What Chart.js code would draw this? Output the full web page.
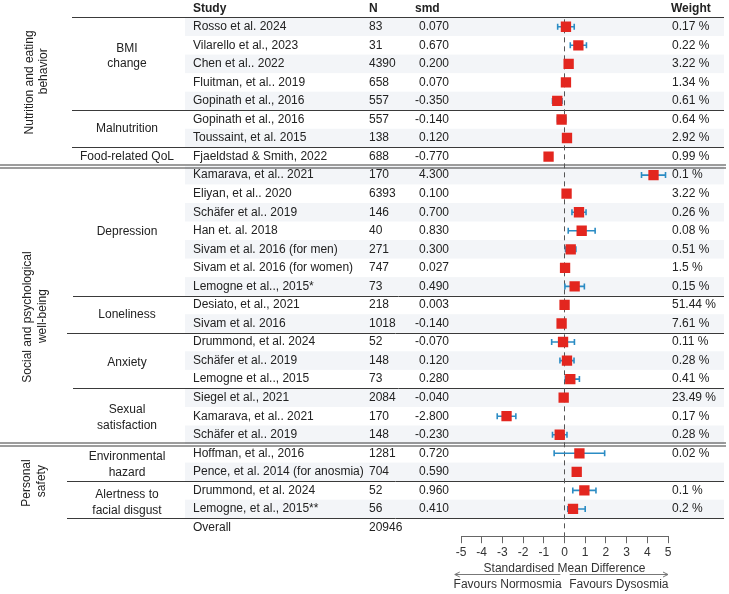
<!DOCTYPE html>
<html>
<head>
<meta charset="utf-8">
<script src="https://cdn.jsdelivr.net/npm/chart.js@4.4.1/dist/chart.umd.min.js"></script>
<style>
  html, body { margin: 0; padding: 0; background: #fff; }
  canvas { display: block; }
</style>
</head>
<body>
<canvas id="forestChart" width="729" height="594"></canvas>
<script>
// study rows, top to bottom
const studies = [
    'Rosso et al. 2024', 'Vilarello et al., 2023', 'Chen et al.. 2022', 'Fluitman, et al.. 2019',
    'Gopinath et al., 2016', 'Gopinath et al., 2016', 'Toussaint, et al. 2015', 'Fjaeldstad & Smith, 2022',
    'Kamarava, et al.. 2021', 'Eliyan, et al.. 2020', 'Schäfer et al.. 2019', 'Han et. al. 2018',
    'Sivam et al. 2016 (for men)', 'Sivam et al. 2016 (for women)', 'Lemogne et al.., 2015*',
    'Desiato, et al., 2021', 'Sivam et al. 2016', 'Drummond, et al. 2024', 'Schäfer et al.. 2019',
    'Lemogne et al.., 2015', 'Siegel et al., 2021', 'Kamarava, et al.. 2021', 'Schäfer et al.. 2019',
    'Hoffman, et al., 2016', 'Pence, et al. 2014 (for anosmia)', 'Drummond, et al. 2024', 'Lemogne, et al., 2015**'
];
const sampleN = [83, 31, 4390, 658, 557, 557, 138, 688, 170, 6393, 146, 40, 271, 747, 73, 218, 1018, 52, 148, 73, 2084, 170, 148, 1281, 704, 52, 56];
const smd = [0.070, 0.670, 0.200, 0.070, -0.350, -0.140, 0.120, -0.770, 4.300, 0.100, 0.700, 0.830, 0.300, 0.027, 0.490,
    0.003, -0.140, -0.070, 0.120, 0.280, -0.040, -2.800, -0.230, 0.720, 0.590, 0.960, 0.410];
// confidence limits
const ciLower = [-0.33, 0.28, 0.14, -0.01, -0.58, -0.34, 0.00, -0.85, 3.72, 0.05, 0.36, 0.18, 0.05, -0.08, 0.02,
    -0.09, -0.22, -0.62, -0.22, 0.04, -0.10, -3.25, -0.58, -0.50, 0.52, 0.40, 0.16];
const ciUpper = [0.47, 1.06, 0.26, 0.15, -0.12, 0.06, 0.24, -0.69, 4.88, 0.15, 1.04, 1.48, 0.55, 0.13, 0.96,
    0.10, -0.06, 0.48, 0.46, 0.72, 0.02, -2.35, 0.12, 1.94, 0.66, 1.52, 1.00];
const weights = ['0.17 %', '0.22 %', '3.22 %', '1.34 %', '0.61 %', '0.64 %', '2.92 %', '0.99 %', '0.1 %', '3.22 %',
    '0.26 %', '0.08 %', '0.51 %', '1.5 %', '0.15 %', '51.44 %', '7.61 %', '0.11 %', '0.28 %', '0.41 %',
    '23.49 %', '0.17 %', '0.28 %', '0.02 %', '', '0.1 %', '0.2 %'];
const overallN = 20946;
const xTicks = [-5, -4, -3, -2, -1, 0, 1, 2, 3, 4, 5];

// outcome labels: text lines and the row they sit on
const outcomes = [
    { lines: ['BMI', 'change'], rows: [1.2, 2.0] },
    { lines: ['Malnutrition'], rows: [5.5] },
    { lines: ['Food-related QoL'], rows: [7] },
    { lines: ['Depression'], rows: [11.05] },
    { lines: ['Loneliness'], rows: [15.5] },
    { lines: ['Anxiety'], rows: [18.1] },
    { lines: ['Sexual', 'satisfaction'], rows: [20.63, 21.5] },
    { lines: ['Environmental', 'hazard'], rows: [23.2, 24.05] },
    { lines: ['Alertness to', 'facial disgust'], rows: [25.25, 26.1] }
];
const domains = [
    { lines: ['Nutrition and eating', 'behavior'], rows: [3.0, 2.4], x: [30, 44] },
    { lines: ['Social and psychological', 'well-being'], rows: [15.65, 15.6], x: [28, 43] },
    { lines: ['Personal', 'safety'], rows: [24.6, 24.5], x: [27, 42] }
];
// separator lines below a row: row index, start x, double line
const separators = [
    { after: -1, from: 72 }, { after: 4, from: 72 }, { after: 6, from: 72 }, { after: 7, from: 0, dbl: true },
    { after: 14, from: 73 }, { after: 16, from: 67 }, { after: 19, from: 73 }, { after: 22, from: 0, dbl: true },
    { after: 24, from: 67 }, { after: 26, from: 67 }
];

const FONT = "'Liberation Sans', Arial, Helvetica, sans-serif";
Chart.defaults.font.family = FONT;
Chart.defaults.font.size = 12;

const rowIdx = studies.map((s, i) => i);
const ciLines = [];
rowIdx.forEach(i => {
    ciLines.push({ x: ciLower[i], y: i }, { x: ciUpper[i], y: i }, { x: ciUpper[i], y: null });
});
const ciCaps = [];
rowIdx.forEach(i => {
    ciCaps.push({ x: ciLower[i], y: i }, { x: ciUpper[i], y: i });
});

const tablePlugin = {
    id: 'forestTable',
    beforeDatasetsDraw(chart) {
        const c = chart.ctx;
        const y = chart.scales.y;
        const h = y.getPixelForValue(1) - y.getPixelForValue(0);
        c.save();
        c.fillStyle = '#f3f5f8';
        rowIdx.forEach(i => {
            if (i % 2 === 0) {
                const cy = y.getPixelForValue(i);
                c.fillRect(185, cy - h / 2, 539, h);
            }
        });
        c.strokeStyle = '#3a3a3a';
        c.lineWidth = 1;
        separators.forEach(s => {
            const py = Math.round(y.getPixelForValue(s.after + 0.5)) + 0.5;
            c.beginPath();
            if (s.dbl) {
                c.moveTo(s.from, py - 1.5); c.lineTo(726, py - 1.5);
                c.moveTo(s.from, py + 1.5); c.lineTo(726, py + 1.5);
            } else {
                c.moveTo(s.from, py); c.lineTo(724, py);
            }
            c.stroke();
        });
        c.restore();
    },
    afterDraw(chart) {
        const c = chart.ctx;
        const y = chart.scales.y;
        const x = chart.scales.x;
        c.save();
        c.fillStyle = '#222';
        c.textBaseline = 'middle';
        // header
        c.font = 'bold 12px ' + FONT;
        const hy = y.getPixelForValue(-1);
        c.fillText('Study', 193, hy);
        c.fillText('N', 369, hy);
        c.fillText('smd', 415, hy);
        c.fillText('Weight', 671, hy);
        c.font = '12px ' + FONT;
        rowIdx.forEach(i => {
            const py = y.getPixelForValue(i);
            c.textAlign = 'left';
            c.fillText(studies[i], 193, py);
            c.fillText(String(sampleN[i]), 369, py);
            c.fillText(weights[i], 672, py);
            c.textAlign = 'right';
            c.fillText(smd[i].toFixed(3), 449, py);
        });
        c.textAlign = 'left';
        const oy = y.getPixelForValue(studies.length);
        c.fillText('Overall', 193, oy);
        c.fillText(String(overallN), 369, oy);

        c.textAlign = 'center';
        outcomes.forEach(o => {
            o.lines.forEach((t, k) => c.fillText(t, 127, y.getPixelForValue(o.rows[k])));
        });
        domains.forEach(d => {
            d.lines.forEach((t, k) => {
                c.save();
                c.translate(d.x[k], y.getPixelForValue(d.rows[k]));
                c.rotate(-Math.PI / 2);
                c.fillText(t, 0, 0);
                c.restore();
            });
        });

        // direction arrows under the axis
        const ay = 574.5;
        c.strokeStyle = '#777';
        c.lineWidth = 1;
        const l0 = x.getPixelForValue(-0.2), l1 = x.getPixelForValue(-5.3);
        const r0 = x.getPixelForValue(0.25), r1 = x.getPixelForValue(5);
        c.beginPath();
        c.moveTo(l0, ay); c.lineTo(l1, ay);
        c.moveTo(l1 + 5, ay - 2.5); c.lineTo(l1, ay); c.lineTo(l1 + 5, ay + 2.5);
        c.moveTo(r0, ay); c.lineTo(r1, ay);
        c.moveTo(r1 - 5, ay - 2.5); c.lineTo(r1, ay); c.lineTo(r1 - 5, ay + 2.5);
        c.stroke();
        c.fillStyle = '#333';
        c.fillText('Favours Normosmia', (l0 + l1) / 2, 585);
        c.fillText('Favours Dysosmia', (r0 + r1) / 2, 585);
        c.restore();
    }
};

const ctx = document.getElementById('forestChart').getContext('2d');
new Chart(ctx, {
    type: 'scatter',
    data: {
        datasets: [
            {
                label: 'SMD',
                data: rowIdx.map(i => ({ x: smd[i], y: i })),
                pointStyle: 'rect',
                pointRadius: 7.3,
                backgroundColor: '#e3261f',
                borderColor: '#e3261f',
                borderWidth: 0,
                order: 0
            },
            {
                label: 'CI',
                data: ciLines,
                showLine: true,
                spanGaps: false,
                pointRadius: 0,
                borderColor: '#2b8cc4',
                borderWidth: 1.6,
                order: 1
            },
            {
                label: 'CI caps',
                data: ciCaps,
                pointStyle: 'line',
                rotation: 90,
                pointRadius: 3,
                borderColor: '#2b8cc4',
                borderWidth: 1.6,
                order: 1
            },
            {
                label: 'No effect',
                data: [{ x: 0, y: -0.4 }, { x: 0, y: 27.47 }],
                showLine: true,
                pointRadius: 0,
                borderColor: '#555',
                borderWidth: 1,
                borderDash: [5, 4],
                order: 2
            }
        ]
    },
    options: {
        responsive: false,
        animation: false,
        layout: { autoPadding: false, padding: { left: 461, right: 61, top: 0, bottom: 18 } },
        plugins: { legend: { display: false }, tooltip: { enabled: false } },
        scales: {
            x: {
                type: 'linear',
                min: -5,
                max: 5,
                afterBuildTicks: axis => { axis.ticks = xTicks.map(v => ({ value: v })); },
                ticks: { color: '#333', padding: 2, font: { size: 12 } },
                grid: { drawOnChartArea: false, drawTicks: true, tickLength: 7, color: '#666' },
                border: { display: true, color: '#666' },
                title: { display: true, text: 'Standardised Mean Difference', color: '#333', font: { size: 12 }, padding: { top: 0, bottom: 0 } }
            },
            y: {
                type: 'linear',
                reverse: true,
                min: -1.443,
                max: 27.47,
                display: false
            }
        }
    },
    plugins: [tablePlugin]
});
</script>
</body>
</html>
